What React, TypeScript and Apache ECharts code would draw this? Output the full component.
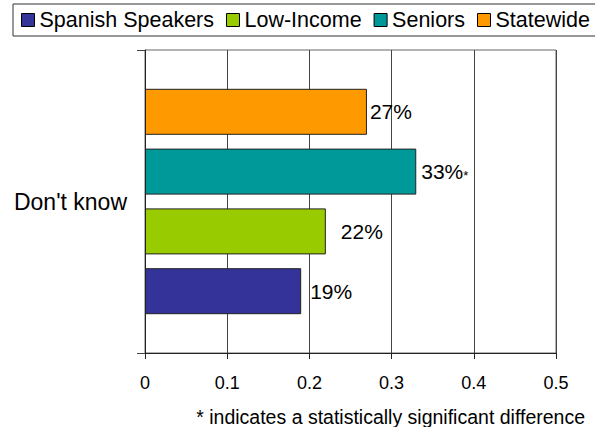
import React, { useEffect, useRef } from "react";
import * as echarts from "echarts";

const categories = ["Don't know"];
const seriesNames = ["Spanish Speakers", "Low-Income", "Seniors", "Statewide"];
const seriesColors = ["#333399", "#99CC00", "#009999", "#FF9900"];
const spanishValues = [0.19];
const lowIncomeValues = [0.22];
const seniorsValues = [0.33];
const statewideValues = [0.27];
const labelTexts = ["19%", "22%", "33%{s|*}", "27%"];
const labelDistances = [9, 15, 5, 3];
const xTicks = [0, 0.1, 0.2, 0.3, 0.4, 0.5];
const footnote = "* indicates a statistically significant difference";

const FONT = "'Liberation Sans', Arial, sans-serif";

export default function App() {
  const ref = useRef<HTMLDivElement>(null);
  useEffect(() => {
    if (!ref.current) return;
    const chart = echarts.init(ref.current, undefined, { renderer: "svg" });
    const allValues = [spanishValues, lowIncomeValues, seniorsValues, statewideValues];
    const order = [3, 2, 1, 0];
    const series = order.map((i) => ({
      name: seriesNames[i],
      type: "bar",
      data: allValues[i],
      barWidth: 46,
      barGap: "30%",
      itemStyle: { color: seriesColors[i], borderColor: "#222", borderWidth: 1 },
      label: {
        show: true,
        position: "right",
        distance: labelDistances[i],
        formatter: labelTexts[i],
        color: "#000",
        fontFamily: FONT,
        fontSize: 21,
        rich: {
          s: { fontSize: 13, color: "#000", fontFamily: FONT, verticalAlign: "bottom", padding: [6, 0, 0, 0] },
        },
      },
    }));
    chart.setOption({
      animation: false,
      textStyle: { fontFamily: FONT },
      legend: {
        data: seriesNames,
        left: 13,
        top: 4,
        width: 620,
        orient: "horizontal",
        icon: "rect",
        itemWidth: 13,
        itemHeight: 13,
        itemGap: 12,
        padding: [5, 6, 5, 8],
        borderColor: "#333",
        borderWidth: 1,
        selectedMode: false,
        itemStyle: { borderColor: "#000", borderWidth: 1 },
        textStyle: { fontSize: 21.5, color: "#000", fontFamily: FONT, lineHeight: 22 },
      },
      grid: {
        left: 145,
        right: 39,
        top: 50,
        bottom: 74,
        containLabel: false,
        show: true,
        borderColor: "#666",
        borderWidth: 1,
      },
      xAxis: {
        type: "value",
        min: xTicks[0],
        max: xTicks[xTicks.length - 1],
        interval: 0.1,
        axisLine: { show: true, lineStyle: { color: "#222", width: 1 } },
        axisTick: { show: true, length: 6, lineStyle: { color: "#222" } },
        splitLine: { show: true, lineStyle: { color: "#444", width: 1 } },
        axisLabel: {
          color: "#000",
          fontSize: 18,
          fontFamily: FONT,
          margin: 21,
          formatter: (v: number) => String(Math.round(v * 10) / 10),
        },
      },
      yAxis: {
        type: "category",
        data: categories,
        boundaryGap: true,
        axisLine: { show: true, lineStyle: { color: "#222", width: 1 } },
        axisTick: { show: true, length: 8, lineStyle: { color: "#444" } },
        axisLabel: { color: "#000", fontSize: 23, fontFamily: FONT, margin: 18 },
      },
      graphic: [
        {
          type: "text",
          right: 10,
          top: 407,
          style: { text: footnote, fill: "#000", font: `19.5px ${FONT}` },
        },
      ],
      series,
    });
    return () => chart.dispose();
  }, []);
  return (
    <div
      ref={ref}
      style={{ position: "fixed", left: 0, top: 0, width: 595, height: 427, background: "#fff" }}
    />
  );
}
